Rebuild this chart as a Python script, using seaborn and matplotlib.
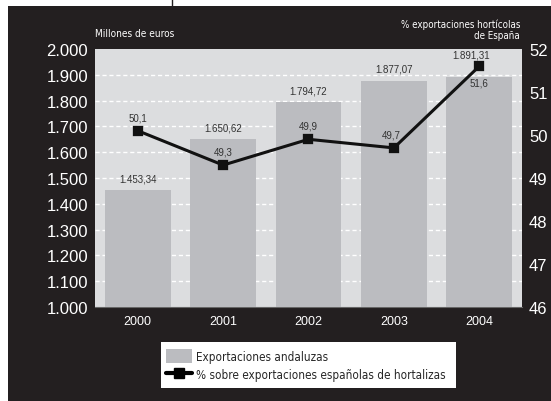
import matplotlib
matplotlib.use("Agg")
import matplotlib.pyplot as plt
import seaborn as sns
from matplotlib.patches import Patch, Rectangle
from matplotlib.lines import Line2D
from matplotlib.ticker import FuncFormatter

years = ["2000", "2001", "2002", "2003", "2004"]
exports = [1453.34, 1650.62, 1794.72, 1877.07, 1891.31]
share = [50.1, 49.3, 49.9, 49.7, 51.6]
left_ticks = [1000, 1100, 1200, 1300, 1400, 1500, 1600, 1700, 1800, 1900, 2000]
right_ticks = [46, 47, 48, 49, 50, 51, 52]

BLACK = "#231f20"
BG = "#dcdddf"
BAR = "#bbbcc0"

sns.set_style("white")
plt.rcParams["font.family"] = ["Liberation Sans", "DejaVu Sans"]
narrow = ["DejaVu Sans"]


def eu(v, dec=0):
    s = f"{v:,.{dec}f}"
    return s.replace(",", "X").replace(".", ",").replace("X", ".")


W, H = 551, 402
fig = plt.figure(figsize=(W / 100, H / 100), dpi=100)
fig.patch.set_facecolor("white")
fig.patches.append(Rectangle((8 / W, 0), 1, (H - 7) / H, transform=fig.transFigure,
                             facecolor=BLACK, edgecolor="none", zorder=-5))
fig.lines.append(Line2D([172 / W, 172 / W], [(H - 7) / H, 1], transform=fig.transFigure,
                        color=BLACK, lw=1))
# white legend box
fig.patches.append(Rectangle((161 / W, 1 - 389 / H), 295 / W, 46 / H, transform=fig.transFigure,
                             facecolor="white", edgecolor="none", zorder=-4))

ax = fig.add_axes([95 / W, 94 / H, 427 / W, 258 / H])
ax.set_facecolor(BG)
sns.barplot(x=years, y=exports, ax=ax, color=BAR, width=0.77, saturation=1,
            linewidth=0, edgecolor="none", zorder=3)
ax.set_ylim(1000, 2000)
ax.set_xlim(-0.5, 4.5)
ax.set_yticks(left_ticks)
ax.yaxis.set_major_formatter(FuncFormatter(lambda v, p: eu(v, 0)))
ax.tick_params(axis="y", colors="white", labelsize=12, length=0, pad=5)
ax.tick_params(axis="x", colors="white", labelsize=9, length=0, pad=6)
for t in left_ticks[1:-1]:
    ax.axhline(t, color="white", lw=1, ls=(0, (3, 2)), zorder=1)
for s in ["left", "right", "top"]:
    ax.spines[s].set_visible(False)
ax.spines["bottom"].set_color("#666666")
ax.spines["bottom"].set_linestyle((0, (2, 1)))
ax.set_xlabel("")

ax2 = ax.twinx()
sns.pointplot(x=years, y=share, ax=ax2, color="#111111", markers="s",
              markersize=6, linewidth=2.2)
ax2.set_ylim(46, 52)
ax2.set_xlim(-0.5, 4.5)
ax2.set_yticks(right_ticks)
ax2.tick_params(axis="y", colors="white", labelsize=12, length=0, pad=5)
for s in ax2.spines.values():
    s.set_visible(False)
ax2.set_ylabel("")

# bar value labels drawn on the top axes so the markers don't hide them
for i, v in enumerate(exports):
    dy, dx = (12.5, -6) if i == 4 else (5, 0)
    ax2.annotate(eu(v, 2), (i, v), xycoords=ax.transData, xytext=(dx, dy),
                 textcoords="offset points", ha="center", va="bottom",
                 fontsize=7, color="#333333", zorder=5)
for i, v in enumerate(share):
    off = (0, -15) if i == 4 else (0, 6)
    dx = -2 if i == 3 else 0
    ax2.annotate(eu(v, 1), (i, v), xytext=(off[0] + dx, off[1]), textcoords="offset points",
                 ha="center", va="bottom", fontsize=7, color="#333333")

fig.text(95 / W, 1 - 34 / H, "Millones de euros", color="white", fontsize=7.2,
         family=narrow, stretch="condensed", ha="left", va="center")
fig.text(520 / W, 1 - 30 / H, "% exportaciones hortícolas\nde España", color="white",
         fontsize=7, family=narrow, stretch="condensed", ha="right", va="center",
         linespacing=1.15)

handles = [Patch(facecolor=BAR, edgecolor="none"),
           Line2D([0], [0], color="black", lw=3, marker="s", markersize=7)]
labels = ["Exportaciones andaluzas", "% sobre exportaciones españolas de hortalizas"]
leg = fig.legend(handles, labels, loc="center left",
                 bbox_to_anchor=(166 / W, 1 - 366 / H),
                 frameon=False, prop={"family": narrow, "size": 8.4, "stretch": "condensed"},
                 handlelength=2.2, handleheight=1.5, borderpad=0, borderaxespad=0,
                 labelspacing=0.35, handletextpad=0.35)

fig.savefig("out.png", dpi=100)
